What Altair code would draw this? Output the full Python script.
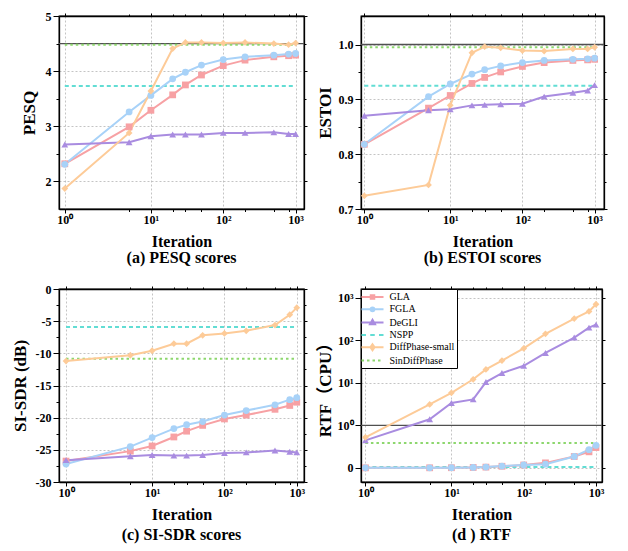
import math
import altair as alt
import pandas as pd

# ---------------- data ----------------
iterations = [1, 5, 10, 20, 30, 50, 100, 200, 500, 800, 1000]

pesq_gla = [2.32, 2.99, 3.29, 3.57, 3.75, 3.93, 4.10, 4.20, 4.26, 4.28, 4.29]
pesq_fgla = [2.31, 3.26, 3.56, 3.86, 3.98, 4.11, 4.21, 4.26, 4.29, 4.31, 4.32]
pesq_degli = [2.67, 2.71, 2.82, 2.85, 2.85, 2.85, 2.88, 2.88, 2.89, 2.86, 2.86]
pesq_diff = [1.87, 2.88, 3.64, 4.41, 4.52, 4.52, 4.51, 4.52, 4.50, 4.48, 4.51]
pesq_nspp = 3.73
pesq_sin = 4.48
pesq_ref = 4.5

estoi_gla = [0.818, 0.884, 0.907, 0.929, 0.940, 0.950, 0.960, 0.967, 0.971, 0.972, 0.973]
estoi_fgla = [0.818, 0.905, 0.928, 0.946, 0.954, 0.961, 0.967, 0.971, 0.973, 0.974, 0.975]
estoi_degli = [0.870, 0.880, 0.882, 0.889, 0.890, 0.891, 0.892, 0.905, 0.912, 0.916, 0.926]
estoi_diff = [0.724, 0.744, 0.889, 0.985, 0.996, 0.994, 0.989, 0.988, 0.992, 0.992, 0.995]
estoi_nspp = 0.925
estoi_sin = 0.995
estoi_ref = 1.0

sisdr_gla = [-26.75, -25.2, -24.4, -23.0, -22.1, -21.2, -20.2, -19.6, -18.7, -18.1, -17.6]
sisdr_fgla = [-27.2, -24.5, -23.1, -21.7, -21.1, -20.6, -19.6, -18.9, -18.0, -17.2, -16.9]
sisdr_degli = [-26.6, -26.0, -25.8, -25.9, -25.9, -25.8, -25.5, -25.4, -25.1, -25.3, -25.4]
sisdr_diff = [-11.2, -10.3, -9.6, -8.5, -8.5, -7.2, -6.9, -6.5, -5.6, -4.0, -2.9]
sisdr_nspp = -5.9
sisdr_sin = -10.85

rtf_gla = [0.003, 0.004, 0.006, 0.012, 0.02, 0.04, 0.07, 0.12, 0.27, 0.38, 0.48]
rtf_fgla = [0.003, 0.004, 0.006, 0.012, 0.02, 0.045, 0.07, 0.09, 0.27, 0.43, 0.53]
rtf_degli = [0.65, 1.40, 3.37, 4.1, 10.5, 17.1, 25.3, 50.7, 117, 200, 235]
rtf_diff = [0.72, 3.13, 5.85, 12.2, 20.8, 33.7, 65, 143, 326, 480, 710]
rtf_nspp = 0.02
rtf_sin = 0.59
rtf_ref = 1.0

methods = ["GLA", "FGLA", "DeGLI", "NSPP", "DiffPhase-small", "SinDiffPhase"]
colors = ["#F7A1A4", "#A8D2F8", "#A98CE0", "#62DDD4", "#FDCB98", "#8DD76E"]
curve_methods = ["GLA", "FGLA", "DeGLI", "DiffPhase-small"]
curve_shapes = ["square", "circle", "triangle-up", "diamond"]
const_methods = ["NSPP", "SinDiffPhase"]
const_dashes = [[4, 3], [2.5, 3]]

x_major = [1, 10, 100, 1000]
x_major_labels = ["10⁰", "10¹", "10²", "10³"]

# legend symbols: a line with its marker, drawn as one stroked path each
legend_paths = [
    "M-2.2,0L2.2,0M-0.35,-0.35L0.35,-0.35L0.35,0.35L-0.35,0.35ZM-0.06,-0.06L0.06,-0.06L0.06,0.06L-0.06,0.06Z",
    "M-2.2,0L2.2,0M0.38,0A0.38,0.38 0 1,1 -0.38,0A0.38,0.38 0 1,1 0.38,0ZM0.1,0A0.1,0.1 0 1,1 -0.1,0A0.1,0.1 0 1,1 0.1,0Z",
    "M-2.2,0L2.2,0M0,-0.55L0.5,0.32L-0.5,0.32ZM0,-0.12L0.12,0.08L-0.12,0.08Z",
    "M-2.2,0L-1.3,0M-0.45,0L0.45,0M1.3,0L2.2,0",
    "M-2.2,0L2.2,0M0,-0.6L0.42,0L0,0.6L-0.42,0ZM0,-0.15L0.1,0L0,0.15L-0.1,0Z",
    "M-2.2,0L-1.7,0M-1.1,0L-0.6,0M0,0L0.5,0M1.1,0L1.6,0",
]

FONT = "Liberation Serif"
LIN = 1.0 / (1.0 - 0.1)          # symlog linear span (decades) below linthresh = 5
X0 = math.log10(5) - LIN


def tx(i):
    return math.log10(i) if i >= 5 else X0 + LIN * i / 5


TX_EXPR = f"datum.iter >= 5 ? log(datum.iter) / LN10 : {X0!r} + {LIN / 5!r} * datum.iter"
x_values = [round(tx(i), 6) for i in iterations]
x_major_pos = [round(tx(i), 6) for i in x_major]


def ty_rtf(v):
    return v if v <= 1 else 1 + math.log10(v)


def near(vals):
    return " || ".join(f"abs(datum.value - ({v})) < 1e-4" for v in vals)


def label_expr(pos, labels):
    expr = "''"
    for p, l in reversed(list(zip(pos, labels))):
        expr = f"(abs(datum.value - ({p})) < 1e-4 ? '{l}' : {expr})"
    return expr


def curves_df(gla, fgla, degli, diff):
    rows = []
    for m, vals in zip(curve_methods, [gla, fgla, degli, diff]):
        for it, v in zip(iterations, vals):
            rows.append({"method": m, "iter": it, "value": v})
    return pd.DataFrame(rows)


def const_df(nspp, sin):
    rows = []
    for m, v in zip(const_methods, [nspp, sin]):
        for it in [iterations[0], iterations[-1]]:
            rows.append({"method": m, "iter": it, "value": v})
    return pd.DataFrame(rows)


def frange(a, b, step):
    n = int(round((b - a) / step))
    return [round(a + k * step, 6) for k in range(n + 1)]


panels = [
    dict(curves=curves_df(pesq_gla, pesq_fgla, pesq_degli, pesq_diff), consts=const_df(pesq_nspp, pesq_sin),
         ref=pesq_ref, ytitle="PESQ", ydomain=[1.5, 5.0], xdomain=[-0.270, 3.116], yexpr="datum.value",
         yvalues=frange(2, 5, 0.5), ymajor=[2, 3, 4, 5], ylabels=["2", "3", "4", "5"],
         caption="(a) PESQ scores", width=245, legend=False, tpad=7, coff=1),
    dict(curves=curves_df(estoi_gla, estoi_fgla, estoi_degli, estoi_diff), consts=const_df(estoi_nspp, estoi_sin),
         ref=estoi_ref, ytitle="ESTOI", ydomain=[0.7, 1.052], xdomain=[-0.236, 3.130], yexpr="datum.value",
         yvalues=frange(0.7, 1.0, 0.05), ymajor=[0.7, 0.8, 0.9, 1.0], ylabels=["0.7", "0.8", "0.9", "1.0"],
         caption="(b) ESTOI scores", width=243, legend=False, tpad=4, coff=1),
    dict(curves=curves_df(sisdr_gla, sisdr_fgla, sisdr_degli, sisdr_diff), consts=const_df(sisdr_nspp, sisdr_sin),
         ref=None, ytitle="SI-SDR (dB)", ydomain=[-30, 0], xdomain=[-0.287, 3.100], yexpr="datum.value",
         yvalues=frange(-30, 0, 2.5), ymajor=[-30, -25, -20, -15, -10, -5, 0],
         ylabels=["-30", "-25", "-20", "-15", "-10", "-5", "0"],
         caption="(c) SI-SDR scores", width=245, legend=False, tpad=6, coff=5),
    dict(curves=curves_df(rtf_gla, rtf_fgla, rtf_degli, rtf_diff), consts=const_df(rtf_nspp, rtf_sin),
         ref=ty_rtf(rtf_ref), ytitle="RTF（CPU）", ydomain=[-0.33, 4.21], xdomain=[-0.251, 3.083],
         yexpr="datum.value <= 1 ? datum.value : 1 + log(datum.value) / LN10",
         yvalues=[ty_rtf(v) for v in [0, 1, 10, 100, 1000]], ymajor=[ty_rtf(v) for v in [0, 1, 10, 100, 1000]],
         ylabels=["0", "10⁰", "10¹", "10²", "10³"],
         caption="(d ) RTF", width=241, legend=True, tpad=3, coff=5),
]

GRID = dict(gridColor="#b5b5b5", gridDash=[2, 2], gridWidth=0.8)
HEIGHT = 193

# data layers use the colours in drawing order (curves first, then constant lines)
data_order = curve_methods + const_methods
data_colors = [colors[methods.index(m)] for m in data_order]


def make_panel(p):
    xs = alt.Scale(domain=p["xdomain"], nice=False, zero=False)
    ys = alt.Scale(domain=p["ydomain"], nice=False, zero=False)
    xmaj = near(x_major_pos)
    ymaj = near(p["ymajor"])
    x_bottom = alt.Axis(orient="bottom", values=x_values, labelExpr=label_expr(x_major_pos, x_major_labels),
                        title="Iteration", titleFontSize=16, grid=True,
                        gridOpacity={"condition": {"test": xmaj, "value": 1}, "value": 0},
                        tickSize={"condition": {"test": xmaj, "value": 4}, "value": 2.5},
                        labelOverlap=False, labelFlush=False, labelPadding=1, titlePadding=8, **GRID)
    x_top = alt.Axis(orient="top", values=x_values, labels=False, title=None, grid=False,
                     tickSize={"condition": {"test": xmaj, "value": 3}, "value": 2})
    y_left = alt.Axis(orient="left", values=p["yvalues"], labelExpr=label_expr(p["ymajor"], p["ylabels"]),
                      title=p["ytitle"], titleFontSize=17, grid=True,
                      gridOpacity={"condition": {"test": ymaj, "value": 1}, "value": 0},
                      tickSize={"condition": {"test": ymaj, "value": 6}, "value": 3},
                      labelOverlap=False, labelFlush=False, labelPadding=2, titlePadding=p["tpad"], **GRID)
    y_right = alt.Axis(orient="right", values=p["yvalues"], labels=False, title=None, grid=False,
                       tickSize={"condition": {"test": ymaj, "value": 3}, "value": 2})

    calc = dict(tx=TX_EXPR, ty=p["yexpr"])
    color_scale = alt.Scale(domain=data_order, range=data_colors)

    layers = []
    if p["ref"] is not None:
        layers.append(
            alt.Chart(pd.DataFrame({"ty": [p["ref"]]}))
            .mark_rule(color="#505050", strokeWidth=1.3)
            .encode(y=alt.Y("ty:Q", scale=ys, axis=None))
        )
    layers.append(
        alt.Chart(p["consts"]).transform_calculate(**calc)
        .mark_line(strokeWidth=2)
        .encode(
            x=alt.X("tx:Q", scale=xs, axis=x_top),
            y=alt.Y("ty:Q", scale=ys, axis=y_right),
            color=alt.Color("method:N", scale=color_scale, legend=None),
            strokeDash=alt.StrokeDash("method:N", scale=alt.Scale(domain=const_methods, range=const_dashes),
                                      legend=None),
        )
    )
    layers.append(
        alt.Chart(p["curves"]).transform_calculate(**calc)
        .mark_line(strokeWidth=2)
        .encode(
            x=alt.X("tx:Q", scale=xs, axis=x_bottom),
            y=alt.Y("ty:Q", scale=ys, axis=y_left),
            color=alt.Color("method:N", scale=color_scale, legend=None),
        )
    )
    for m, shp in zip(curve_methods, curve_shapes):
        layers.append(
            alt.Chart(p["curves"]).transform_filter(alt.datum.method == m).transform_calculate(**calc)
            .mark_point(filled=True, size=46, opacity=1, shape=shp)
            .encode(
                x=alt.X("tx:Q", scale=xs, axis=None),
                y=alt.Y("ty:Q", scale=ys, axis=None),
                color=alt.Color("method:N", scale=color_scale, legend=None),
            )
        )
    if p["legend"]:
        leg = alt.Legend(title=None, orient="top-left", offset=0, padding=2, strokeColor="black",
                         fillColor="white", symbolSize=100, symbolStrokeWidth=2, symbolOffset=3.5,
                         labelOffset=11, labelFont=FONT, labelFontSize=10, labelFontWeight="normal",
                         labelColor="black", rowPadding=0.3, cornerRadius=0)
        layers.append(
            alt.Chart(pd.DataFrame({"method": methods})).transform_filter("false")
            .mark_point(filled=False, strokeWidth=2, opacity=1)
            .encode(
                stroke=alt.Stroke("method:N", scale=alt.Scale(domain=methods, range=colors), legend=leg),
                shape=alt.Shape("method:N", scale=alt.Scale(domain=methods, range=legend_paths), legend=leg),
            )
        )
    return (
        alt.layer(*layers)
        .resolve_axis(x="independent", y="independent")
        .properties(
            width=p["width"], height=HEIGHT,
            title=alt.TitleParams(p["caption"], orient="bottom", anchor="middle", font=FONT, fontSize=16,
                                  fontWeight="bold", color="black", offset=p["coff"]),
        )
    )


chart = (
    alt.concat(*[make_panel(p) for p in panels], columns=2, spacing={"row": 15, "column": 6})
    .resolve_scale(color="independent", stroke="independent", shape="independent", strokeDash="independent")
    .properties(padding={"left": 2, "top": 1, "right": 2, "bottom": 0})
    .configure_view(stroke="black", strokeWidth=1.3)
    .configure_axis(domainColor="black", domainWidth=1.3, tickColor="black", tickWidth=1,
                    labelFont=FONT, labelFontSize=12, labelFontWeight="bold", labelColor="black",
                    titleFont=f"{FONT}, Noto Sans CJK SC", titleFontWeight="bold", titleColor="black")
    .configure_legend(strokeWidth=1)
)

chart.save("out.html", embed_options={"renderer": "svg", "actions": False})
